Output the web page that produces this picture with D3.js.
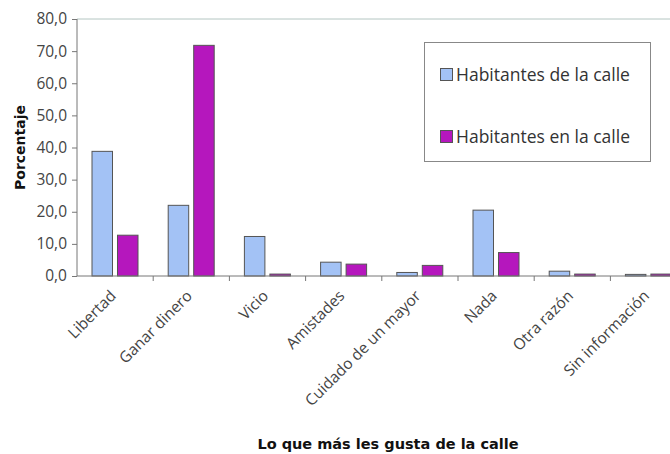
<!DOCTYPE html>
<html>
<head>
<meta charset="utf-8">
<script src="https://cdn.jsdelivr.net/npm/d3@7"></script>
<style>
  html, body { margin: 0; padding: 0; background: #fff; }
  svg { display: block; }
  .tick text { font-family: "Open Sans", sans-serif; fill: #444; }
</style>
</head>
<body>
<svg id="chart" width="670" height="454"></svg>
<script>
// Categories and series values (percentages)
const categories = ["Libertad", "Ganar dinero", "Vicio", "Amistades",
  "Cuidado de un mayor", "Nada", "Otra razón", "Sin información"];
const seriesNames = ["Habitantes de la calle", "Habitantes en la calle"];
const deLaCalle = [38.8, 22.0, 12.3, 4.3, 1.1, 20.5, 1.5, 0.5];
const enLaCalle = [12.7, 71.8, 0.6, 3.7, 3.3, 7.3, 0.6, 0.6];
const yTicks = [0, 10, 20, 30, 40, 50, 60, 70, 80];
const colors = ["#a3c2f5", "#b517bd"];

(function () {
  const svg = d3.select("#chart");
  const plotLeft = 77, plotTop = 19, plotBottom = 276;
  const step = 76.2;
  const plotRight = plotLeft + step * categories.length;

  const x = d3.scaleBand().domain(categories).range([plotLeft, plotRight]).padding(0);
  const x1 = d3.scaleBand().domain(seriesNames).range([15, 61]).paddingInner(0.196).paddingOuter(0);
  const y = d3.scaleLinear().domain([0, 80]).range([plotBottom, plotTop]);

  const fmt = v => d3.format(".1f")(v).replace(".", ",");

  // top gridline at 80
  svg.append("line")
    .attr("x1", plotLeft).attr("x2", plotRight)
    .attr("y1", y(80)).attr("y2", y(80))
    .attr("stroke", "#b4c6c2").attr("stroke-width", 1);

  // bars
  const rows = categories.map((c, i) => ({ c, vals: [deLaCalle[i], enLaCalle[i]] }));
  const g = svg.append("g");
  rows.forEach(r => {
    r.vals.forEach((v, j) => {
      g.append("rect")
        .attr("x", x(r.c) + x1(seriesNames[j]))
        .attr("y", y(v))
        .attr("width", x1.bandwidth())
        .attr("height", y(0) - y(v))
        .attr("fill", colors[j])
        .attr("stroke", "#555")
        .attr("stroke-width", 1);
    });
  });

  // y axis
  const yAxis = svg.append("g")
    .attr("transform", `translate(${plotLeft},0)`)
    .call(d3.axisLeft(y).tickValues(yTicks).tickFormat(fmt).tickSize(5).tickPadding(5));
  yAxis.selectAll("path, line").attr("stroke", "#777");
  yAxis.selectAll("text").style("font-size", "15.5px").attr("fill", "#555");
  yAxis.select(".domain").attr("d", `M0,${plotTop}V${plotBottom}`);

  // x axis with ticks between categories
  const xAxis = svg.append("g").attr("transform", `translate(0,${plotBottom})`);
  xAxis.append("line").attr("x1", plotLeft).attr("x2", plotRight).attr("y1", 0).attr("y2", 0).attr("stroke", "#777");
  categories.forEach(c => {
    xAxis.append("line").attr("x1", x(c) + step).attr("x2", x(c) + step)
      .attr("y1", 0).attr("y2", 5).attr("stroke", "#777");
  });
  xAxis.selectAll("text.cat").data(categories).enter().append("text")
    .attr("class", "cat")
    .attr("transform", d => `translate(${x(d) + step / 2 - 2},${17}) rotate(-45)`)
    .attr("text-anchor", "end")
    .attr("dy", "0.35em")
    .style("font-family", "'Open Sans', sans-serif")
    .style("font-size", "15.5px")
    .attr("fill", "#444")
    .text(d => d);

  // axis titles
  svg.append("text")
    .attr("transform", `translate(25,${(plotTop + plotBottom) / 2}) rotate(-90)`)
    .attr("text-anchor", "middle")
    .style("font-family", "'DejaVu Sans', sans-serif")
    .style("font-weight", "bold")
    .style("font-size", "14px")
    .attr("fill", "#111")
    .text("Porcentaje");

  svg.append("text")
    .attr("x", 388).attr("y", 449)
    .attr("text-anchor", "middle")
    .style("font-family", "'DejaVu Sans', sans-serif")
    .style("font-weight", "bold")
    .style("font-size", "14.5px")
    .attr("fill", "#111")
    .text("Lo que más les gusta de la calle");

  // legend
  const lg = svg.append("g");
  lg.append("rect")
    .attr("x", 424.5).attr("y", 42.5).attr("width", 226).attr("height", 119)
    .attr("fill", "#fff").attr("stroke", "#888").attr("stroke-width", 1);
  seriesNames.forEach((s, i) => {
    const cy = 74.5 + i * 62;
    lg.append("rect")
      .attr("x", 440.5).attr("y", cy - 6).attr("width", 12).attr("height", 12)
      .attr("fill", colors[i]).attr("stroke", "#555");
    lg.append("text")
      .attr("x", 456).attr("y", cy).attr("dy", "0.35em")
      .style("font-family", "'Open Sans', sans-serif")
      .style("font-size", "17.5px")
      .attr("fill", "#333")
      .text(s);
  });
})();
</script>
</body>
</html>
